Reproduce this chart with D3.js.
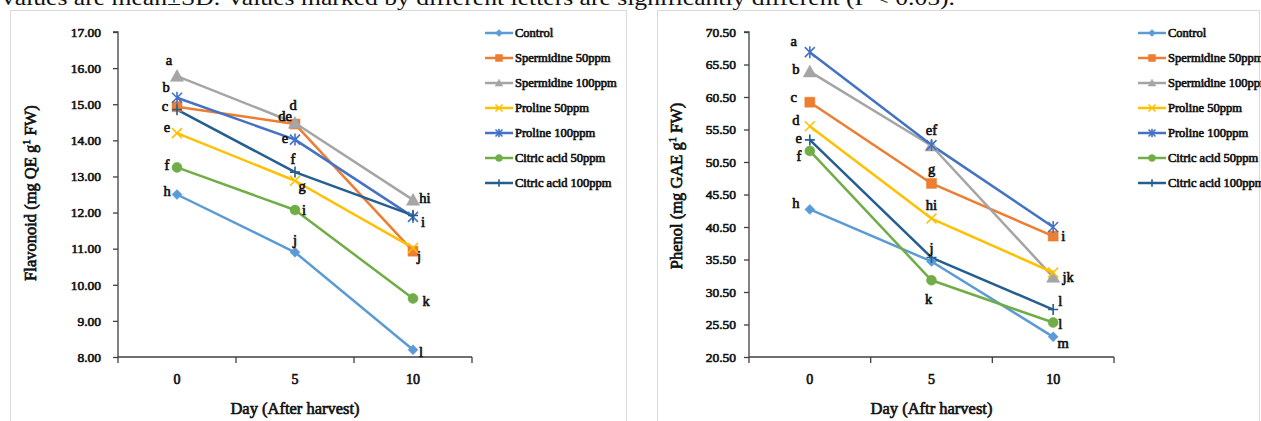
<!DOCTYPE html>
<html><head><meta charset="utf-8">
<script src="https://cdn.jsdelivr.net/npm/d3@7"></script>
<style>
html,body{margin:0;padding:0;background:#fff;}
svg{display:block;}
text{font-family:"Liberation Serif","Times New Roman",serif;}
text.b{font-family:"Liberation Serif","Times New Roman",serif;font-weight:normal;stroke:#111;stroke-width:0.65px;fill:#111;}
</style></head>
<body>
<svg id="chart" width="1261" height="421"></svg>
<script>
// ---------- DATA ----------
const days = ["0", "5", "10"];
const seriesNames = ["Control", "Spermidine 50ppm", "Spermidine 100ppm", "Proline 50ppm", "Proline 100ppm", "Citric acid 50ppm", "Citric acid 100ppm"];
const seriesColors = ["#5B9BD5", "#ED7D31", "#A5A5A5", "#FFC000", "#4472C4", "#70AD47", "#255E91"];
const seriesMarkers = ["diamond", "square", "triangle", "x", "star", "circle", "plus"];

// Flavonoid (mg QE g-1 FW)
const flavControl   = [12.50, 10.90, 8.20];
const flavSperm50   = [14.93, 14.45, 10.93];
const flavSperm100  = [15.78, 14.48, 12.35];
const flavProline50 = [14.20, 12.88, 11.02];
const flavProline100= [15.18, 14.02, 11.88];
const flavCitric50  = [13.25, 12.07, 9.62];
const flavCitric100 = [14.85, 13.12, 11.92];
const flavTicks = [8, 9, 10, 11, 12, 13, 14, 15, 16, 17];

// Phenol (mg GAE g-1 FW)
const phenControl   = [43.2, 35.2, 23.6];
const phenSperm50   = [59.7, 47.2, 39.1];
const phenSperm100  = [64.4, 53.0, 32.8];
const phenProline50 = [56.0, 41.8, 33.5];
const phenProline100= [67.4, 53.1, 40.5];
const phenCitric50  = [52.2, 32.3, 25.8];
const phenCitric100 = [53.9, 35.8, 27.8];
const phenTicks = [20.5, 25.5, 30.5, 35.5, 40.5, 45.5, 50.5, 55.5, 60.5, 65.5, 70.5];

// significance letters: [series index, day index, letter]
const flavLetters = [
  [2,0,"a"],[4,0,"b"],[1,0,"c"],[3,0,"e"],[5,0,"f"],[0,0,"h"],
  [1,1,"d"],[2,1,"de"],[4,1,"e"],[6,1,"f"],[3,1,"g"],[5,1,"i"],[0,1,"j"],
  [2,2,"hi"],[4,2,"i"],[1,2,"j"],[5,2,"k"],[0,2,"l"]
];
const phenLetters = [
  [4,0,"a"],[2,0,"b"],[1,0,"c"],[3,0,"d"],[6,0,"e"],[5,0,"f"],[0,0,"h"],
  [4,1,"ef"],[1,1,"g"],[3,1,"hi"],[6,1,"j"],[5,1,"k"],
  [1,2,"i"],[3,2,"jk"],[6,2,"l"],[5,2,"l"],[0,2,"m"]
];
const caption = "Values are mean\u00b1SD. Values marked by different letters are significantly different (P < 0.05).";

// ---------- LAYOUT (label offsets in px, same order as letter arrays) ----------
const flavLetterOffsets = [
  [-8,-16],[-11,-11],[-12,-1],[-10,-6],[-10,-2],[-10,-4],
  [-2,-19],[-10,-7],[-10,-2],[-2,-13],[7,5],[9,0],[0,-12],
  [12,-2],[10,5],[6,5],[13,2],[8,2]
];
const phenLetterOffsets = [
  [-16,-11],[-14,-3],[-16,-5],[-14,-6],[-11,-2],[-11,5],[-14,-6],
  [0,-15],[0,-14],[0,-14],[0,-10],[-3,19],
  [10,0],[15,4],[7,-9],[7,1],[10,6]
];

const svg = d3.select("#chart");

// caption (partly cut off at top)
svg.append("text").attr("x", -1).attr("y", 5)
  .attr("font-size", 22).attr("fill", "#111")
  .attr("textLength", 956).attr("lengthAdjust", "spacingAndGlyphs")
  .text(caption);

// panel borders
svg.append("rect").attr("x", 10.5).attr("y", 10.5).attr("width", 616).attr("height", 440)
  .attr("fill", "none").attr("stroke", "#d9d9d9");
svg.append("rect").attr("x", 657.5).attr("y", 10.5).attr("width", 602).attr("height", 440)
  .attr("fill", "none").attr("stroke", "#d9d9d9");

function markerPath(type, r) {
  switch (type) {
    case "diamond": return `M0,${-r}L${r},0L0,${r}L${-r},0Z`;
    case "square": return `M${-r},${-r}H${r}V${r}H${-r}Z`;
    case "triangle": { const h = r * 1.1; return `M0,${-h}L${h},${h*0.8}L${-h},${h*0.8}Z`; }
    case "circle": return `M${r},0A${r},${r} 0 1,1 ${-r},0A${r},${r} 0 1,1 ${r},0Z`;
    case "x": return `M${-r},${-r}L${r},${r}M${-r},${r}L${r},${-r}`;
    case "star": return `M${-r},${-r}L${r},${r}M${-r},${r}L${r},${-r}M0,${-r*1.2}V${r*1.2}`;
    case "plus": return `M${-r},0H${r}M0,${-r*1.1}V${r*1.1}`;
  }
}
const filled = t => ["diamond", "square", "triangle", "circle"].includes(t);

function drawMarker(g, type, color, x, y, r) {
  g.append("path").attr("transform", `translate(${x},${y})`)
    .attr("d", markerPath(type, r))
    .attr("fill", filled(type) ? color : "none")
    .attr("stroke", color)
    .attr("stroke-width", filled(type) ? 0.5 : 1.6);
}

function drawChart(cfg) {
  const g = svg.append("g");
  const x = d3.scaleBand().domain(days).range([cfg.x0, cfg.x1]);
  const y = d3.scaleLinear().domain([cfg.ticks[0], cfg.ticks[cfg.ticks.length - 1]]).range([cfg.y1, cfg.y0]);
  const cx = d => x(d) + x.bandwidth() / 2;

  // y axis
  const yAxis = d3.axisLeft(y).tickValues(cfg.ticks).tickFormat(d3.format(".2f")).tickSize(5).tickPadding(cfg.yPad);
  const ya = g.append("g").attr("transform", `translate(${cfg.x0},0)`).call(yAxis)
    .attr("font-family", null);
  ya.select(".domain").attr("stroke", "#404040").attr("stroke-width", 1.3).attr("d", `M-5,${cfg.y0}H0V${cfg.y1}`);
  ya.selectAll(".tick line").attr("stroke", "#404040").attr("stroke-width", 1.3);
  ya.selectAll(".tick text").attr("class", "b").attr("font-size", 13.5);

  // x axis
  const xAxis = d3.axisBottom(x).tickSize(0).tickPadding(17);
  const xa = g.append("g").attr("transform", `translate(0,${cfg.y1})`).call(xAxis)
    .attr("font-family", null);
  xa.select(".domain").attr("stroke", "#404040").attr("stroke-width", 1.3).attr("d", `M${cfg.x0},0H${cfg.x1}`);
  xa.selectAll(".tick text").attr("class", "b").attr("font-size", 14);
  const bounds = days.map(d => x(d)).concat([cfg.x1]);
  xa.selectAll(".bnd").data(bounds).enter().append("line").attr("class", "bnd")
    .attr("x1", d => d).attr("x2", d => d).attr("y1", 0).attr("y2", 6)
    .attr("stroke", "#404040").attr("stroke-width", 1.3);

  // titles
  g.append("text").attr("class", "b").attr("x", (cfg.x0 + cfg.x1) / 2).attr("y", cfg.xTitleY)
    .attr("text-anchor", "middle").attr("font-size", 16.5)
    .text(cfg.xTitle);
  const yt = g.append("text").attr("class", "b").attr("transform", `translate(${cfg.yTitleX},${cfg.yTitleY}) rotate(-90)`)
    .attr("text-anchor", "middle").attr("font-size", 16.5);
  yt.append("tspan").text(cfg.yTitle[0]);
  yt.append("tspan").attr("dy", -6).attr("font-size", 10.5).text(cfg.yTitle[1]);
  yt.append("tspan").attr("dy", 6).text(cfg.yTitle[2]);

  // series
  const line = d3.line().x((d, i) => cx(days[i])).y(d => y(d));
  cfg.series.forEach((vals, si) => {
    g.append("path").datum(vals).attr("d", line).attr("fill", "none")
      .attr("stroke", seriesColors[si]).attr("stroke-width", 2.5).attr("stroke-linejoin", "round");
  });
  cfg.series.forEach((vals, si) => {
    vals.forEach((v, i) => drawMarker(g, seriesMarkers[si], seriesColors[si], cx(days[i]), y(v), seriesMarkers[si] === "triangle" ? 6 : 5));
  });

  // letters
  cfg.letters.forEach((l, k) => {
    const [si, di, txt] = l;
    const off = cfg.offsets[k];
    g.append("text").attr("class", "b").attr("x", cx(days[di]) + off[0]).attr("y", y(cfg.series[si][di]) + off[1])
      .attr("text-anchor", "middle").attr("dominant-baseline", "central")
      .attr("font-size", 14.5).text(txt);
  });

  // legend
  const lg = g.append("g");
  seriesNames.forEach((name, si) => {
    const ly = cfg.legY + si * 25;
    lg.append("line").attr("x1", cfg.legX).attr("x2", cfg.legX + 28).attr("y1", ly).attr("y2", ly)
      .attr("stroke", seriesColors[si]).attr("stroke-width", 2.5);
    drawMarker(lg, seriesMarkers[si], seriesColors[si], cfg.legX + 14, ly, 3.5);
    lg.append("text").attr("class", "b").attr("x", cfg.legX + 30).attr("y", ly).attr("dominant-baseline", "central")
      .attr("font-size", 12.5).text(name);
  });
}

drawChart({
  x0: 118, x1: 472, y0: 32, y1: 357, ticks: flavTicks, yPad: 12,
  series: [flavControl, flavSperm50, flavSperm100, flavProline50, flavProline100, flavCitric50, flavCitric100],
  letters: flavLetters, offsets: flavLetterOffsets,
  xTitle: "Day (After harvest)", xTitleY: 414,
  yTitle: ["Flavonoid (mg QE g", "1", " FW)"], yTitleX: 36, yTitleY: 193,
  legX: 485, legY: 33
});
drawChart({
  x0: 749, x1: 1114, y0: 32, y1: 357, ticks: phenTicks, yPad: 8,
  series: [phenControl, phenSperm50, phenSperm100, phenProline50, phenProline100, phenCitric50, phenCitric100],
  letters: phenLetters, offsets: phenLetterOffsets,
  xTitle: "Day (Aftr harvest)", xTitleY: 414,
  yTitle: ["Phenol (mg GAE g", "1", " FW)"], yTitleX: 682, yTitleY: 186,
  legX: 1138, legY: 33
});
</script>
</body></html>
